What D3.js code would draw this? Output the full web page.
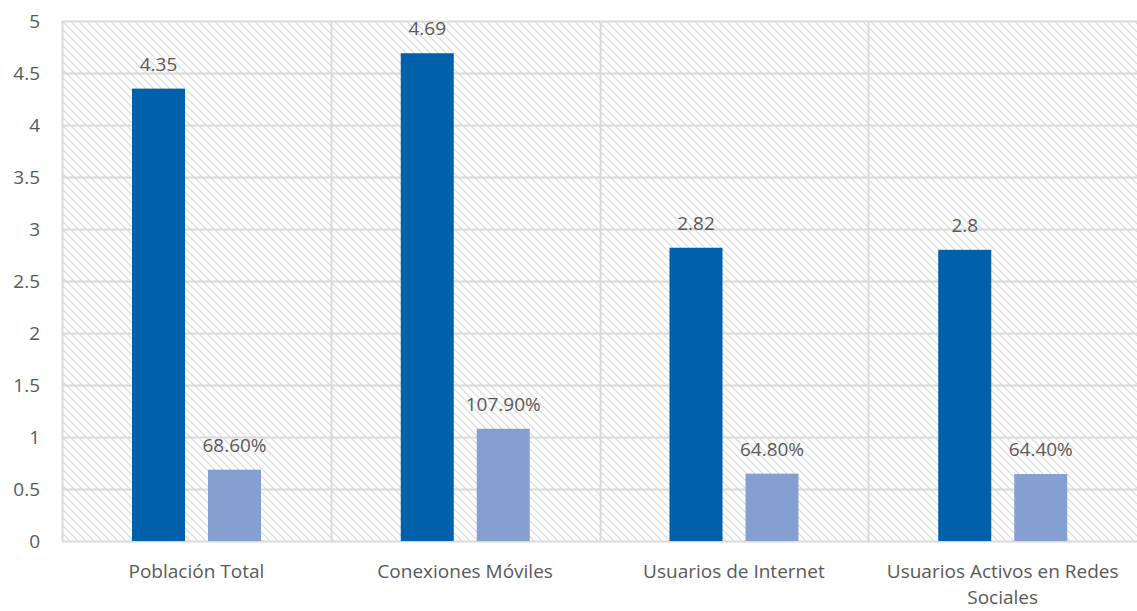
<!DOCTYPE html>
<html>
<head>
<meta charset="utf-8">
<script src="https://cdn.jsdelivr.net/npm/d3@7"></script>
<style>
  body { margin: 0; background: #fff; }
  text { font-family: "Open Sans", "Noto Sans", sans-serif; fill: #595959; }
</style>
</head>
<body>
<svg id="chart" width="1137" height="611"></svg>
<script>
var categories = ['Población Total', 'Conexiones Móviles', 'Usuarios de Internet', 'Usuarios Activos en Redes Sociales'];
var series = ['valor', 'porcentaje'];
var values = [4.35, 4.69, 2.82, 2.8];
var valueLabels = ['4.35', '4.69', '2.82', '2.8'];
var percents = [0.686, 1.079, 0.648, 0.644];
var percentLabels = ['68.60%', '107.90%', '64.80%', '64.40%'];
var yTicks = [0, 0.5, 1, 1.5, 2, 2.5, 3, 3.5, 4, 4.5, 5];
var colors = ['#0060aa', '#85a0d0'];

var svg = d3.select('#chart');
var margin = {top: 21, right: 0, bottom: 70, left: 62};
var width = 1137 - margin.left - margin.right;
var height = 611 - margin.top - margin.bottom;
var fontSize = '19px';

var defs = svg.append('defs');
var pattern = defs.append('pattern')
    .attr('id', 'hatch')
    .attr('patternUnits', 'userSpaceOnUse')
    .attr('width', 8)
    .attr('height', 8);
pattern.append('path')
    .attr('d', 'M-2,6 L2,10 M0,0 L8,8 M6,-2 L10,2')
    .attr('stroke', '#d6d6d6')
    .attr('stroke-width', 1.1);

var g = svg.append('g')
    .attr('transform', 'translate(' + margin.left + ',' + margin.top + ')');

var x0 = d3.scaleBand()
    .domain(categories)
    .range([0, width]);

var x1 = d3.scaleBand()
    .domain(series)
    .range([70, 199])
    .paddingInner(0.3026);

var y = d3.scaleLinear()
    .domain([0, 5])
    .range([height, 0]);

g.append('rect')
    .attr('width', width)
    .attr('height', height)
    .attr('fill', 'url(#hatch)');

// horizontal grid
g.selectAll('.hgrid')
  .data(yTicks)
  .enter().append('line')
    .attr('class', 'hgrid')
    .attr('x1', 0)
    .attr('x2', width)
    .attr('y1', function(d) { return Math.round(y(d)) + 0.5; })
    .attr('y2', function(d) { return Math.round(y(d)) + 0.5; })
    .attr('stroke', '#d9d9d9')
    .attr('stroke-width', 2);

// vertical grid at category boundaries
g.selectAll('.vgrid')
  .data(categories)
  .enter().append('line')
    .attr('class', 'vgrid')
    .attr('x1', function(d) { return Math.round(x0(d)) + 0.5; })
    .attr('x2', function(d) { return Math.round(x0(d)) + 0.5; })
    .attr('y1', 0)
    .attr('y2', height)
    .attr('stroke', '#d9d9d9')
    .attr('stroke-width', 2);

var rows = categories.map(function(c, i) {
  return [
    {cat: c, key: 'valor', v: values[i], label: valueLabels[i]},
    {cat: c, key: 'porcentaje', v: percents[i], label: percentLabels[i]}
  ];
});

var groups = g.selectAll('.cat')
  .data(rows)
  .enter().append('g')
    .attr('class', 'cat')
    .attr('transform', function(d) { return 'translate(' + x0(d[0].cat) + ',0)'; });

groups.selectAll('rect')
  .data(function(d) { return d; })
  .enter().append('rect')
    .attr('x', function(d) { return x1(d.key); })
    .attr('y', function(d) { return y(d.v); })
    .attr('width', x1.bandwidth())
    .attr('height', function(d) { return height - y(d.v); })
    .attr('fill', function(d, i) { return colors[i]; });

groups.selectAll('.lbl')
  .data(function(d) { return d; })
  .enter().append('text')
    .attr('class', 'lbl')
    .attr('x', function(d) { return x1(d.key) + x1.bandwidth() / 2; })
    .attr('y', function(d) { return y(d.v) - 18; })
    .attr('text-anchor', 'middle')
    .style('font-size', fontSize)
    .text(function(d) { return d.label; });

// y axis labels
g.selectAll('.ytick')
  .data(yTicks)
  .enter().append('text')
    .attr('class', 'ytick')
    .attr('x', -22)
    .attr('y', function(d) { return y(d); })
    .attr('dy', '0.35em')
    .attr('text-anchor', 'end')
    .style('font-size', fontSize)
    .text(function(d) { return d; });

// x axis labels (wrapped)
var xLines = [['Población Total'], ['Conexiones Móviles'], ['Usuarios de Internet'], ['Usuarios Activos en Redes', 'Sociales']];
g.selectAll('.xlabel')
  .data(categories)
  .enter().append('text')
    .attr('class', 'xlabel')
    .attr('text-anchor', 'middle')
    .style('font-size', fontSize)
    .attr('transform', function(d) { return 'translate(' + (x0(d) + x0.bandwidth() / 2) + ',' + (height + 37) + ')'; })
    .each(function(d, i) {
      var t = d3.select(this);
      xLines[i].forEach(function(line, j) {
        t.append('tspan')
          .attr('x', 0)
          .attr('dy', j === 0 ? 0 : 26)
          .text(line);
      });
    });
</script>
</body>
</html>
